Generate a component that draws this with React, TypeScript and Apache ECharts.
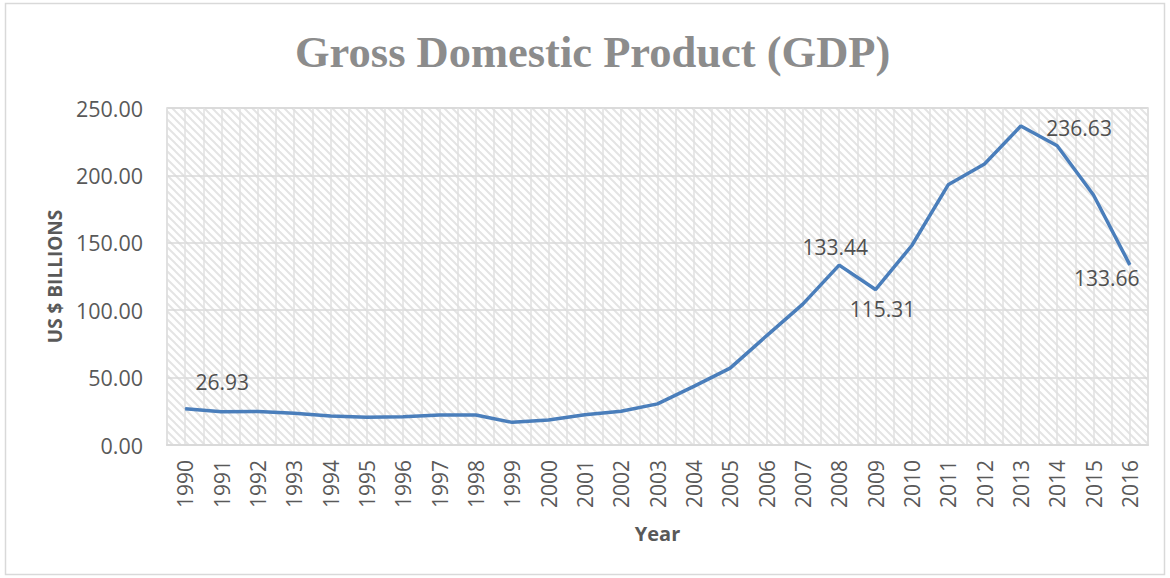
import React, { useEffect, useRef } from "react";
import * as echarts from "echarts";

const years = [
  "1990", "1991", "1992", "1993", "1994", "1995", "1996", "1997", "1998",
  "1999", "2000", "2001", "2002", "2003", "2004", "2005", "2006", "2007",
  "2008", "2009", "2010", "2011", "2012", "2013", "2014", "2015", "2016",
];
const gdp = [
  26.93, 24.7, 24.9, 23.5, 21.5, 20.5, 21.0, 22.3, 22.2,
  16.8, 18.5, 22.5, 25.0, 30.5, 43.5, 57.0, 81.0, 104.5,
  133.44, 115.31, 148.0, 193.0, 208.5, 236.63, 222.0, 185.5, 133.66,
];
const labelledYears = ["1990", "2008", "2009", "2013", "2016"];

const labelPlacement: Record<string, { position: string; offset: number[] }> = {
  "1990": { position: "top", offset: [37, -11] },
  "2008": { position: "top", offset: [-4, -2] },
  "2009": { position: "bottom", offset: [7, 3] },
  "2013": { position: "right", offset: [20, 2] },
  "2016": { position: "bottom", offset: [-23, -3] },
};

function makeHatch() {
  const c = document.createElement("canvas");
  const s = 8;
  c.width = s;
  c.height = s;
  const ctx = c.getContext("2d")!;
  ctx.fillStyle = "#ffffff";
  ctx.fillRect(0, 0, s, s);
  ctx.strokeStyle = "#e4e4e4";
  ctx.lineWidth = 2;
  const seg = (x1: number, y1: number, x2: number, y2: number) => {
    ctx.beginPath();
    ctx.moveTo(x1, y1);
    ctx.lineTo(x2, y2);
    ctx.stroke();
  };
  seg(-2, -2, s + 2, s + 2);
  seg(-2, s - 2, 2, s + 2);
  seg(s - 2, -2, s + 2, 2);
  return c;
}

export default function App() {
  const ref = useRef<HTMLDivElement>(null);
  useEffect(() => {
    if (!ref.current) return;
    const chart = echarts.init(ref.current, undefined, { renderer: "svg" });
    const tickFont = "'Open Sans', 'DejaVu Sans', sans-serif";
    const data = gdp.map((v, i) => {
      const y = years[i];
      if (labelledYears.includes(y)) {
        const p = labelPlacement[y];
        return {
          value: v,
          label: {
            show: true,
            position: p.position,
            offset: p.offset,
            formatter: (d: any) => Number(d.value).toFixed(2),
            color: "#505050",
            fontSize: 21,
            fontFamily: tickFont,
          },
        };
      }
      return v;
    });
    chart.setOption({
      animation: false,
      backgroundColor: "#ffffff",
      title: {
        text: "Gross Domestic Product (GDP)",
        left: 290,
        top: 24,
        textStyle: {
          fontFamily: "'Liberation Serif', serif",
          fontWeight: "bold",
          fontSize: 44.5,
          color: "#8c8c8c",
        },
      },
      graphic: [
        {
          type: "rect",
          shape: { x: 5.5, y: 3.5, width: 1159, height: 571 },
          style: { fill: "none", stroke: "#d9d9d9", lineWidth: 1.5 },
          silent: true,
        },
      ],
      grid: {
        left: 167,
        right: 22,
        top: 108,
        bottom: 133,
        show: true,
        backgroundColor: { image: makeHatch(), repeat: "repeat" },
        borderColor: "#d9d9d9",
        borderWidth: 1.5,
      },
      xAxis: [
        {
          type: "category",
          data: years,
          boundaryGap: true,
          name: "Year",
          nameLocation: "middle",
          nameGap: 88,
          nameTextStyle: {
            fontFamily: tickFont,
            fontWeight: "bold",
            fontSize: 20,
            color: "#595959",
            verticalAlign: "middle",
          },
          axisLine: { show: true, lineStyle: { color: "#d9d9d9", width: 2 } },
          axisTick: { show: false },
          axisLabel: {
            rotate: 90,
            interval: 0,
            margin: 15,
            fontFamily: tickFont,
            fontSize: 21,
            color: "#595959",
          },
          splitLine: { show: false },
        },
        {
          type: "value",
          min: 0,
          max: 54,
          interval: 1,
          position: "bottom",
          axisLine: { show: false },
          axisTick: { show: false },
          axisLabel: { show: false },
          splitLine: { show: true, lineStyle: { color: "#e0e0e0", width: 1.5 } },
        },
      ],
      yAxis: {
        type: "value",
        min: 0,
        max: 250,
        interval: 50,
        name: "US $ BILLIONS",
        nameLocation: "middle",
        nameRotate: 90,
        nameGap: 109,
        nameTextStyle: {
          fontFamily: tickFont,
          fontWeight: "bold",
          fontSize: 19,
          color: "#595959",
          verticalAlign: "middle",
        },
        axisLine: { show: false },
        axisTick: { show: false },
        axisLabel: {
          margin: 24,
          fontFamily: tickFont,
          fontSize: 21.5,
          color: "#595959",
          formatter: (v: number) => v.toFixed(2),
        },
        splitLine: { show: true, lineStyle: { color: "#d9d9d9", width: 1.5 } },
      },
      series: [
        {
          type: "line",
          xAxisIndex: 0,
          data,
          showSymbol: true,
          symbol: "circle",
          symbolSize: 1,
          lineStyle: { color: "#4a7ebb", width: 3.5 },
          itemStyle: { color: "#4a7ebb" },
          z: 5,
        },
      ],
    });
    return () => chart.dispose();
  }, []);
  return (
    <div
      ref={ref}
      style={{ position: "fixed", left: 0, top: 0, width: 1170, height: 578 }}
    />
  );
}
